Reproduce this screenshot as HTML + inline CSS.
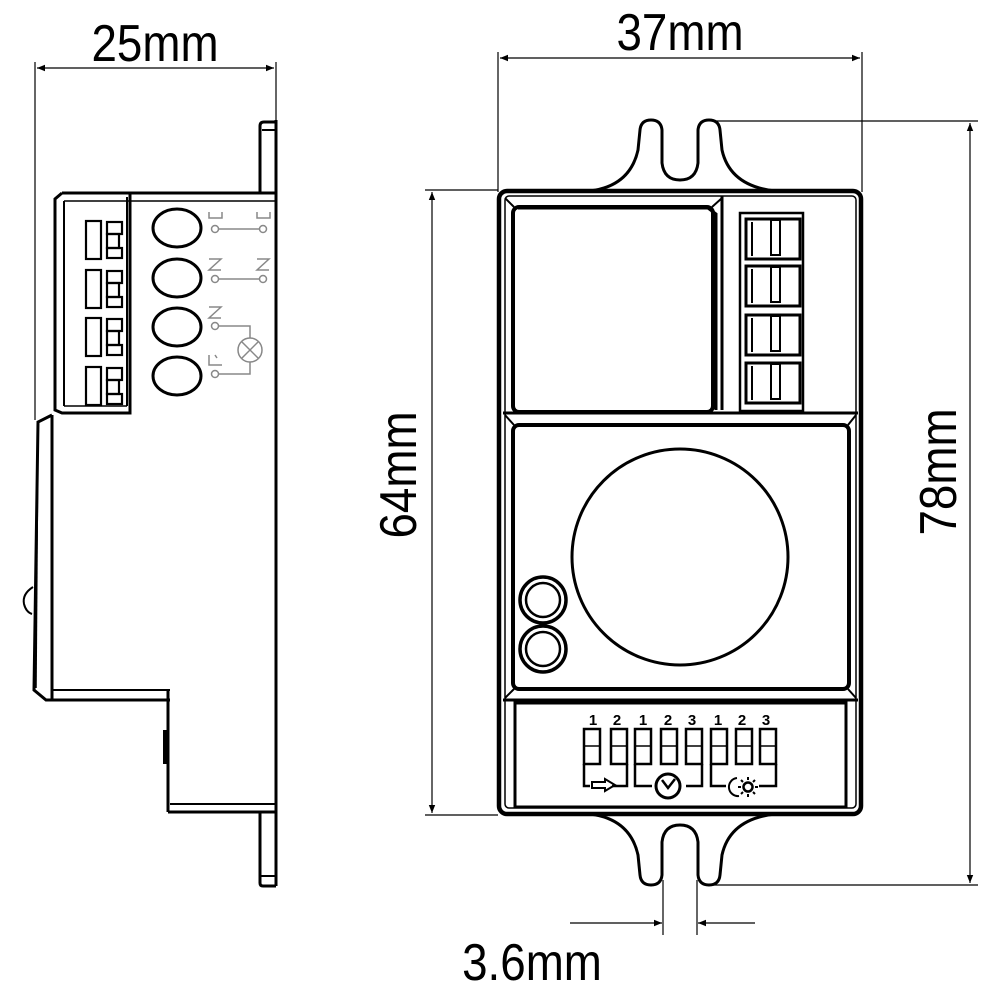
<!DOCTYPE html>
<html><head><meta charset="utf-8"><style>
html,body{margin:0;padding:0;background:#fff;width:1000px;height:1000px;overflow:hidden}
svg{display:block}
text{font-family:"Liberation Sans",sans-serif;fill:#000}
</style></head><body>
<svg width="1000" height="1000" viewBox="0 0 1000 1000" xmlns="http://www.w3.org/2000/svg">
<defs>
<marker id="ar" viewBox="0 0 10 10" refX="10" refY="5" markerWidth="12" markerHeight="8" orient="auto-start-reverse" markerUnits="userSpaceOnUse"><path d="M0,1 L10,5 L0,9 z" fill="#000"/></marker>
</defs>
<g stroke="#000" fill="none">
<line x1="35" y1="62" x2="35" y2="420" stroke-width="1.2"/>
<line x1="276" y1="62" x2="276" y2="122" stroke-width="1.2"/>
<line x1="37" y1="68" x2="274" y2="68" stroke-width="1.2" marker-start="url(#ar)" marker-end="url(#ar)"/>
<path d="M276,122 L264,122 Q260,122 260,126 L260,192" stroke-width="3"/>
<line x1="262" y1="130" x2="276" y2="130" stroke-width="2"/>
<line x1="276" y1="120" x2="276" y2="886" stroke-width="3"/>
<line x1="62" y1="193" x2="276" y2="193" stroke-width="3"/>
<line x1="64" y1="201" x2="276" y2="201" stroke-width="1.5"/>
<path d="M62,193 L55,199 L55,410 L62,413 L130,413 L130,193" stroke-width="3"/>
<line x1="64" y1="201" x2="64" y2="406" stroke-width="2"/>
<line x1="127" y1="197" x2="127" y2="406" stroke-width="2"/>
<line x1="64" y1="406" x2="127" y2="406" stroke-width="1.5"/>
<g stroke-width="2.2">
<rect x="86" y="221" width="15" height="38"/><rect x="107" y="222" width="15" height="12"/><rect x="107" y="234" width="12" height="14"/><rect x="107" y="248" width="15" height="10"/>
<rect x="86" y="270" width="15" height="38"/><rect x="107" y="271" width="15" height="12"/><rect x="107" y="283" width="12" height="14"/><rect x="107" y="297" width="15" height="10"/>
<rect x="86" y="318" width="15" height="38"/><rect x="107" y="319" width="15" height="12"/><rect x="107" y="331" width="12" height="14"/><rect x="107" y="345" width="15" height="10"/>
<rect x="86" y="367" width="15" height="38"/><rect x="107" y="368" width="15" height="12"/><rect x="107" y="380" width="12" height="14"/><rect x="107" y="394" width="15" height="10"/>
</g>
<g stroke-width="3">
<ellipse cx="177" cy="228" rx="24" ry="19"/>
<ellipse cx="177" cy="278" rx="24" ry="19"/>
<ellipse cx="177" cy="327" rx="24" ry="19"/>
<ellipse cx="177" cy="376" rx="24" ry="19"/>
</g>
<g stroke="#888" stroke-width="1.5">
<circle cx="215" cy="229" r="3.5"/><circle cx="263" cy="229" r="3.5"/><line x1="219" y1="229" x2="259" y2="229"/>
<path d="M209,212 L209,218 L222,218 L222,212"/><path d="M257,212 L257,218 L270,218 L270,212"/>
<circle cx="215" cy="279" r="3.5"/><circle cx="263" cy="279" r="3.5"/><line x1="219" y1="279" x2="259" y2="279"/>
<path d="M209,259 L221,259 L209,270 L221,270"/><path d="M257,259 L269,259 L257,270 L269,270"/>
<circle cx="215" cy="326" r="3.5"/><path d="M219,326 L250,326 L250,338"/>
<path d="M209,307 L221,307 L209,318 L221,318"/>
<circle cx="250" cy="350" r="12"/><line x1="242" y1="342" x2="258" y2="358"/><line x1="258" y1="342" x2="242" y2="358"/>
<circle cx="215" cy="374" r="3.5"/><path d="M219,374 L250,374 L250,362"/>
<path d="M209,355 L209,365 L222,365"/><line x1="215" y1="355" x2="217" y2="358"/>
</g>
<path d="M52,415 L38,422 L34,690 L46,700 L52,700 L52,415" stroke-width="3"/>
<line x1="38" y1="424" x2="36" y2="688" stroke-width="1.5"/>
<path d="M33,587 Q22,594 24,604 Q26,612 32,614" stroke-width="2"/>
<line x1="52" y1="690" x2="170" y2="690" stroke-width="2"/>
<line x1="48" y1="700" x2="170" y2="700" stroke-width="3"/>
<line x1="168" y1="690" x2="168" y2="812" stroke-width="3"/>
<rect x="163" y="730" width="4" height="34" fill="#000" stroke="none"/>
<line x1="170" y1="804" x2="276" y2="804" stroke-width="2"/>
<line x1="168" y1="812" x2="276" y2="812" stroke-width="3"/>
<path d="M260,812 L260,883 Q260,886 263,886 L276,886" stroke-width="3"/>
<line x1="260" y1="876" x2="276" y2="876" stroke-width="2"/>

<line x1="498" y1="52" x2="498" y2="192" stroke-width="1.2"/>
<line x1="862" y1="52" x2="862" y2="192" stroke-width="1.2"/>
<line x1="500" y1="58" x2="860" y2="58" stroke-width="1.2" marker-start="url(#ar)" marker-end="url(#ar)"/>
<line x1="425" y1="190" x2="498" y2="190" stroke-width="1.2"/>
<line x1="425" y1="815" x2="498" y2="815" stroke-width="1.2"/>
<line x1="432" y1="192" x2="432" y2="813" stroke-width="1.2" marker-start="url(#ar)" marker-end="url(#ar)"/>
<line x1="712" y1="121" x2="978" y2="121" stroke-width="1.2"/>
<line x1="712" y1="885" x2="978" y2="885" stroke-width="1.2"/>
<line x1="970" y1="123" x2="970" y2="883" stroke-width="1.2" marker-start="url(#ar)" marker-end="url(#ar)"/>
<line x1="663" y1="880" x2="663" y2="935" stroke-width="1.2"/>
<line x1="697" y1="880" x2="697" y2="935" stroke-width="1.2"/>
<line x1="570" y1="923" x2="662" y2="923" stroke-width="1.2" marker-end="url(#ar)"/>
<line x1="755" y1="923" x2="698" y2="923" stroke-width="1.2" marker-end="url(#ar)"/>

<path d="M590,191 Q630,186 638,150 L640,130 Q641,120 651,120 Q661,120 662,130 L662,163 Q664,180 680,180 Q696,180 698,163 L698,130 Q699,120 709,120 Q719,120 720,130 L722,150 Q730,186 775,191" stroke-width="3"/>
<path d="M590,814 Q630,819 638,855 L640,875 Q641,885 651,885 Q661,885 662,875 L662,842 Q664,825 680,825 Q696,825 698,842 L698,875 Q699,885 709,885 Q719,885 720,875 L722,855 Q730,819 775,814" stroke-width="3"/>

<rect x="499" y="191" width="362" height="623" rx="8" stroke-width="4.5"/>
<rect x="505" y="196" width="351" height="612" rx="4" stroke-width="1.5"/>
<path d="M518,208 L708,208 L716,214 L716,410" stroke-width="3"/>
<rect x="513" y="207" width="200" height="205" rx="6" stroke-width="4"/>
<line x1="505" y1="198" x2="514" y2="207" stroke-width="2"/>
<line x1="722" y1="198" x2="712" y2="207" stroke-width="2"/>
<line x1="722" y1="196" x2="722" y2="410" stroke-width="3"/>
<rect x="740" y="213" width="63" height="198" stroke-width="2.5"/>
<g stroke-width="3">
<rect x="746" y="219" width="54" height="40"/><rect x="746" y="266" width="54" height="40"/><rect x="746" y="315" width="54" height="40"/><rect x="746" y="363" width="54" height="40"/>
</g>
<g stroke-width="2">
<line x1="752" y1="222" x2="752" y2="256"/><rect x="771" y="220" width="9" height="35"/>
<line x1="752" y1="269" x2="752" y2="303"/><rect x="771" y="267" width="9" height="35"/>
<line x1="752" y1="318" x2="752" y2="352"/><rect x="771" y="316" width="9" height="35"/>
<line x1="752" y1="366" x2="752" y2="400"/><rect x="771" y="364" width="9" height="35"/>
</g>
<line x1="503" y1="413" x2="858" y2="413" stroke-width="3"/>
<rect x="513" y="425" width="336" height="264" rx="6" stroke-width="4"/>
<line x1="505" y1="415" x2="514" y2="425" stroke-width="2"/>
<line x1="856" y1="415" x2="848" y2="425" stroke-width="2"/>
<line x1="505" y1="698" x2="514" y2="689" stroke-width="2"/>
<line x1="856" y1="698" x2="848" y2="689" stroke-width="2"/>
<line x1="503" y1="700" x2="858" y2="700" stroke-width="3"/>
<circle cx="680" cy="557" r="108" stroke-width="3"/>
<circle cx="543" cy="600" r="23" stroke-width="3.5"/><circle cx="543" cy="600" r="17" stroke-width="2.5"/>
<circle cx="543" cy="649" r="23" stroke-width="3.5"/><circle cx="543" cy="649" r="17" stroke-width="2.5"/>
<rect x="515" y="703" width="331" height="104" stroke-width="3"/>
<g stroke-width="2.5">
<rect x="584" y="729" width="16" height="35"/><rect x="611" y="729" width="16" height="35"/>
<rect x="635" y="729" width="16" height="35"/><rect x="661" y="729" width="16" height="35"/><rect x="686" y="729" width="16" height="35"/>
<rect x="711" y="729" width="16" height="35"/><rect x="736" y="729" width="16" height="35"/><rect x="760" y="729" width="16" height="35"/>
</g>
<g stroke-width="1.5">
<line x1="584" y1="746" x2="600" y2="746"/><line x1="611" y1="746" x2="627" y2="746"/><line x1="635" y1="746" x2="651" y2="746"/><line x1="661" y1="746" x2="677" y2="746"/><line x1="686" y1="746" x2="702" y2="746"/><line x1="711" y1="746" x2="727" y2="746"/><line x1="736" y1="746" x2="752" y2="746"/><line x1="760" y1="746" x2="776" y2="746"/>
</g>
<g stroke-width="2.5">
<path d="M584,764 L584,786 L590,786"/><path d="M627,764 L627,786 L612,786"/>
<path d="M635,764 L635,786 L652,786"/><path d="M702,764 L702,786 L686,786"/>
<path d="M711,764 L711,786 L726,786"/><path d="M776,764 L776,786 L759,786"/>
<path d="M592,782 L605,782 L605,779 L615,785 L605,791 L605,788 L592,788 z" stroke-width="2"/>
<circle cx="668" cy="786" r="12" stroke-width="3"/>
<path d="M662,780 L668,788 L675,779" stroke-width="2.5"/>
<path d="M737,778 A9,9 0 1,0 739,796 A7,7 0 1,1 737,778" stroke-width="2"/>
<circle cx="748" cy="787" r="4.5" stroke-width="2.5"/>
<path d="M748,777 V780 M748,794 V797 M738,787 H741 M755,787 H758 M741,780 L743,782 M755,780 L753,782 M741,794 L743,792 M755,794 L753,792" stroke-width="2"/>
</g>
</g>
<text transform="translate(155,61) scale(0.88,1)" font-size="52" text-anchor="middle">25mm</text>
<text transform="translate(680,50) scale(0.88,1)" font-size="52" text-anchor="middle">37mm</text>
<text transform="translate(532,980) scale(0.88,1)" font-size="52" text-anchor="middle">3.6mm</text>
<text transform="translate(416,475) rotate(-90) scale(0.88,1)" font-size="52" text-anchor="middle">64mm</text>
<text transform="translate(956,472) rotate(-90) scale(0.88,1)" font-size="52" text-anchor="middle">78mm</text>
<g font-size="15" font-weight="bold" text-anchor="middle">
<text x="593" y="725">1</text><text x="617" y="725">2</text><text x="643" y="725">1</text><text x="668" y="725">2</text><text x="692" y="725">3</text><text x="718" y="725">1</text><text x="742" y="725">2</text><text x="766" y="725">3</text>
</g>
</svg>
</body></html>
